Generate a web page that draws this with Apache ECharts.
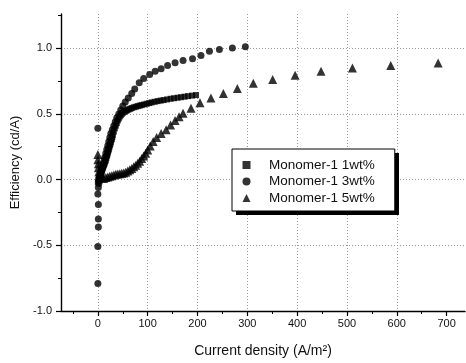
<!DOCTYPE html>
<html>
<head>
<meta charset="utf-8">
<script src="https://cdn.jsdelivr.net/npm/echarts@6/dist/echarts.min.js"></script>
<style>
  html, body { margin: 0; background: #fff; }
  #main { width: 466px; height: 363px; }
</style>
</head>
<body>
<div id="main"></div>
<script>
// tick labels
var xTicks = [0, 100, 200, 300, 400, 500, 600, 700]
var xMinorTicks = [-50, 50, 150, 250, 350, 450, 550, 650]
var yTicks = [-1, -0.5, 0, 0.5, 1]
var yMinorTicks = [-0.75, -0.25, 0.25, 0.75, 1.25]

// Monomer-1 1wt%
var x1 = [0, 1, 2, 3, 4, 5, 6, 7, 8, 9, 10, 11, 12, 13, 14, 15, 16, 17, 18, 19, 20, 21, 22, 23, 24, 25, 26, 27, 28, 29, 30, 32, 34, 36, 38, 40, 42, 44, 46, 48, 50, 53, 56, 59, 62, 65, 68, 72, 76, 80, 84, 88, 93, 98, 103, 108, 114, 120, 126, 132, 139, 146, 153, 160, 167, 174, 181, 189, 197]
var y1 = [-0.02, 0.0, 0.01, 0.02, 0.03, 0.04, 0.05, 0.06, 0.07, 0.08, 0.09, 0.1, 0.11, 0.12, 0.13, 0.14, 0.15, 0.165, 0.18, 0.19, 0.205, 0.22, 0.23, 0.245, 0.26, 0.27, 0.285, 0.3, 0.31, 0.325, 0.34, 0.365, 0.39, 0.41, 0.43, 0.45, 0.465, 0.48, 0.49, 0.5, 0.508, 0.515, 0.522, 0.528, 0.534, 0.539, 0.544, 0.55, 0.554, 0.559, 0.563, 0.567, 0.572, 0.577, 0.582, 0.587, 0.592, 0.597, 0.601, 0.605, 0.61, 0.615, 0.619, 0.623, 0.627, 0.631, 0.635, 0.639, 0.643]

// Monomer-1 3wt%
var x3 = [0, 0, 1, 1, 1, 0, 1, 2, 3, 4, 0, 5, 6, 7, 8, 10, 11, 13, 14, 16, 18, 20, 22, 24, 26, 29, 32, 35, 38, 42, 46, 50, 55, 61, 68, 74, 83, 92, 104, 115, 127, 140, 155, 171, 190, 207, 224, 244, 270, 296]
var y3 = [-0.79, -0.51, -0.36, -0.3, -0.19, -0.11, -0.06, -0.03, -0.01, 0.0, 0.39, 0.02, 0.04, 0.06, 0.08, 0.1, 0.12, 0.15, 0.17, 0.2, 0.23, 0.26, 0.29, 0.32, 0.35, 0.38, 0.41, 0.44, 0.47, 0.5, 0.53, 0.56, 0.59, 0.62, 0.655, 0.69, 0.736, 0.769, 0.799, 0.824, 0.844, 0.869, 0.889, 0.906, 0.919, 0.944, 0.977, 0.989, 1.002, 1.01]

// Monomer-1 5wt%
var x5 = [0, 0, 1, 1, 2, 4, 6, 9, 12, 16, 20, 24, 28, 32, 36, 40, 44, 48, 52, 56, 60, 64, 68, 72, 76, 80, 84, 88, 92, 96, 100, 105, 111, 118, 127, 137, 146, 155, 163, 171, 187, 205, 227, 252, 280, 312, 351, 396, 448, 511, 588, 683]
var y5 = [0.19, 0.15, 0.12, 0.09, 0.06, 0.04, 0.02, 0.01, 0.01, 0.015, 0.02, 0.025, 0.03, 0.035, 0.04, 0.042, 0.045, 0.048, 0.05, 0.055, 0.065, 0.075, 0.085, 0.097, 0.11, 0.125, 0.14, 0.16, 0.18, 0.2, 0.225, 0.255, 0.29, 0.32, 0.35, 0.38, 0.415, 0.45, 0.478, 0.505, 0.543, 0.585, 0.62, 0.656, 0.693, 0.733, 0.761, 0.794, 0.824, 0.849, 0.869, 0.887]

function pairs(xs, ys) {
  return xs.map(function (x, i) { return [x, ys[i]] })
}

var font = 'Liberation Sans, Arial, sans-serif'
var ink = '#111'

var chart = echarts.init(document.getElementById('main'))

var hidden = { show: false }

var option = {
  animation: false,
  backgroundColor: '#fff',
  textStyle: { fontFamily: font, color: ink },
  grid: { left: 61, top: 14, right: 1, bottom: 49 },
  // drop shadow behind the legend box
  graphic: [
    { type: 'rect', left: 236, top: 153, z: 1, shape: { width: 163, height: 62 }, style: { fill: '#000' } }
  ],
  legend: {
    orient: 'vertical',
    left: 232,
    top: 149,
    z: 5,
    padding: [8, 20, 5, 10.5],
    itemWidth: 8,
    itemHeight: 8,
    itemGap: 0.5,
    backgroundColor: '#fff',
    borderColor: '#000',
    borderWidth: 1,
    textStyle: { fontFamily: font, fontSize: 13.5, lineHeight: 16, color: ink, padding: [0, 0, 0, 13.5] },
    data: [
      { name: 'Monomer-1 1wt%', icon: 'rect' },
      { name: 'Monomer-1 3wt%', icon: 'circle' },
      { name: 'Monomer-1 5wt%', icon: 'triangle' }
    ]
  },
  xAxis: [
    {
      type: 'value',
      min: -74,
      max: 737,
      name: 'Current density (A/m²)',
      nameLocation: 'middle',
      nameGap: 33,
      nameTextStyle: { fontFamily: font, fontSize: 14, color: ink },
      axisLine: { onZero: false, lineStyle: { color: '#000', width: 1.4 } },
      axisTick: { customValues: xTicks, length: 5, lineStyle: { color: '#000', width: 1.2 } },
      axisLabel: { customValues: xTicks, margin: 7, fontSize: 11, color: ink, fontFamily: font },
      splitLine: { show: false }
    },
    {
      type: 'value',
      min: -74,
      max: 737,
      position: 'bottom',
      axisLine: { onZero: false, show: false },
      axisTick: { customValues: xMinorTicks, length: 3, lineStyle: { color: '#000', width: 1 } },
      axisLabel: hidden,
      splitLine: hidden
    },
    {
      type: 'value',
      min: -74,
      max: 737,
      position: 'bottom',
      axisLine: { onZero: false, show: false },
      axisTick: { show: false, customValues: [0, 100, 200, 300, 400, 500, 600] },
      axisLabel: hidden,
      splitLine: { show: true, lineStyle: { color: '#999', type: [1, 2], width: 1 } }
    }
  ],
  yAxis: [
    {
      type: 'value',
      min: -1,
      max: 1.26,
      name: 'Efficiency (cd/A)',
      nameLocation: 'middle',
      nameGap: 38,
      nameTextStyle: { fontFamily: font, fontSize: 13, color: ink },
      axisLine: { show: true, onZero: false, lineStyle: { color: '#000', width: 1.4 } },
      axisTick: { show: true, customValues: yTicks, length: 5, lineStyle: { color: '#000', width: 1.2 } },
      axisLabel: {
        customValues: yTicks, margin: 9, fontSize: 11, color: ink, fontFamily: font,
        formatter: function (v) { return v.toFixed(1) }
      },
      splitLine: { show: false }
    },
    {
      type: 'value',
      min: -1,
      max: 1.26,
      position: 'left',
      axisLine: { show: false, onZero: false },
      axisTick: { show: true, customValues: yMinorTicks, length: 3, lineStyle: { color: '#000', width: 1 } },
      axisLabel: hidden,
      splitLine: hidden
    },
    {
      type: 'value',
      min: -1,
      max: 1.26,
      position: 'left',
      axisLine: { show: false, onZero: false },
      axisTick: { show: false, customValues: [-0.5, 0, 0.5, 1] },
      axisLabel: hidden,
      splitLine: { show: true, lineStyle: { color: '#999', type: [1, 2], width: 1 } }
    }
  ],
  series: [
    {
      name: 'Monomer-1 1wt%',
      type: 'scatter',
      symbol: 'rect',
      symbolSize: 6,
      itemStyle: { color: '#000' },
      data: pairs(x1, y1)
    },
    {
      name: 'Monomer-1 3wt%',
      type: 'scatter',
      symbol: 'circle',
      symbolSize: 7,
      itemStyle: { color: '#000' },
      data: pairs(x3, y3)
    },
    {
      name: 'Monomer-1 5wt%',
      type: 'scatter',
      symbol: 'triangle',
      symbolSize: 9,
      itemStyle: { color: '#000' },
      data: pairs(x5, y5)
    }
  ]
}

chart.setOption(option)
</script>
</body>
</html>
